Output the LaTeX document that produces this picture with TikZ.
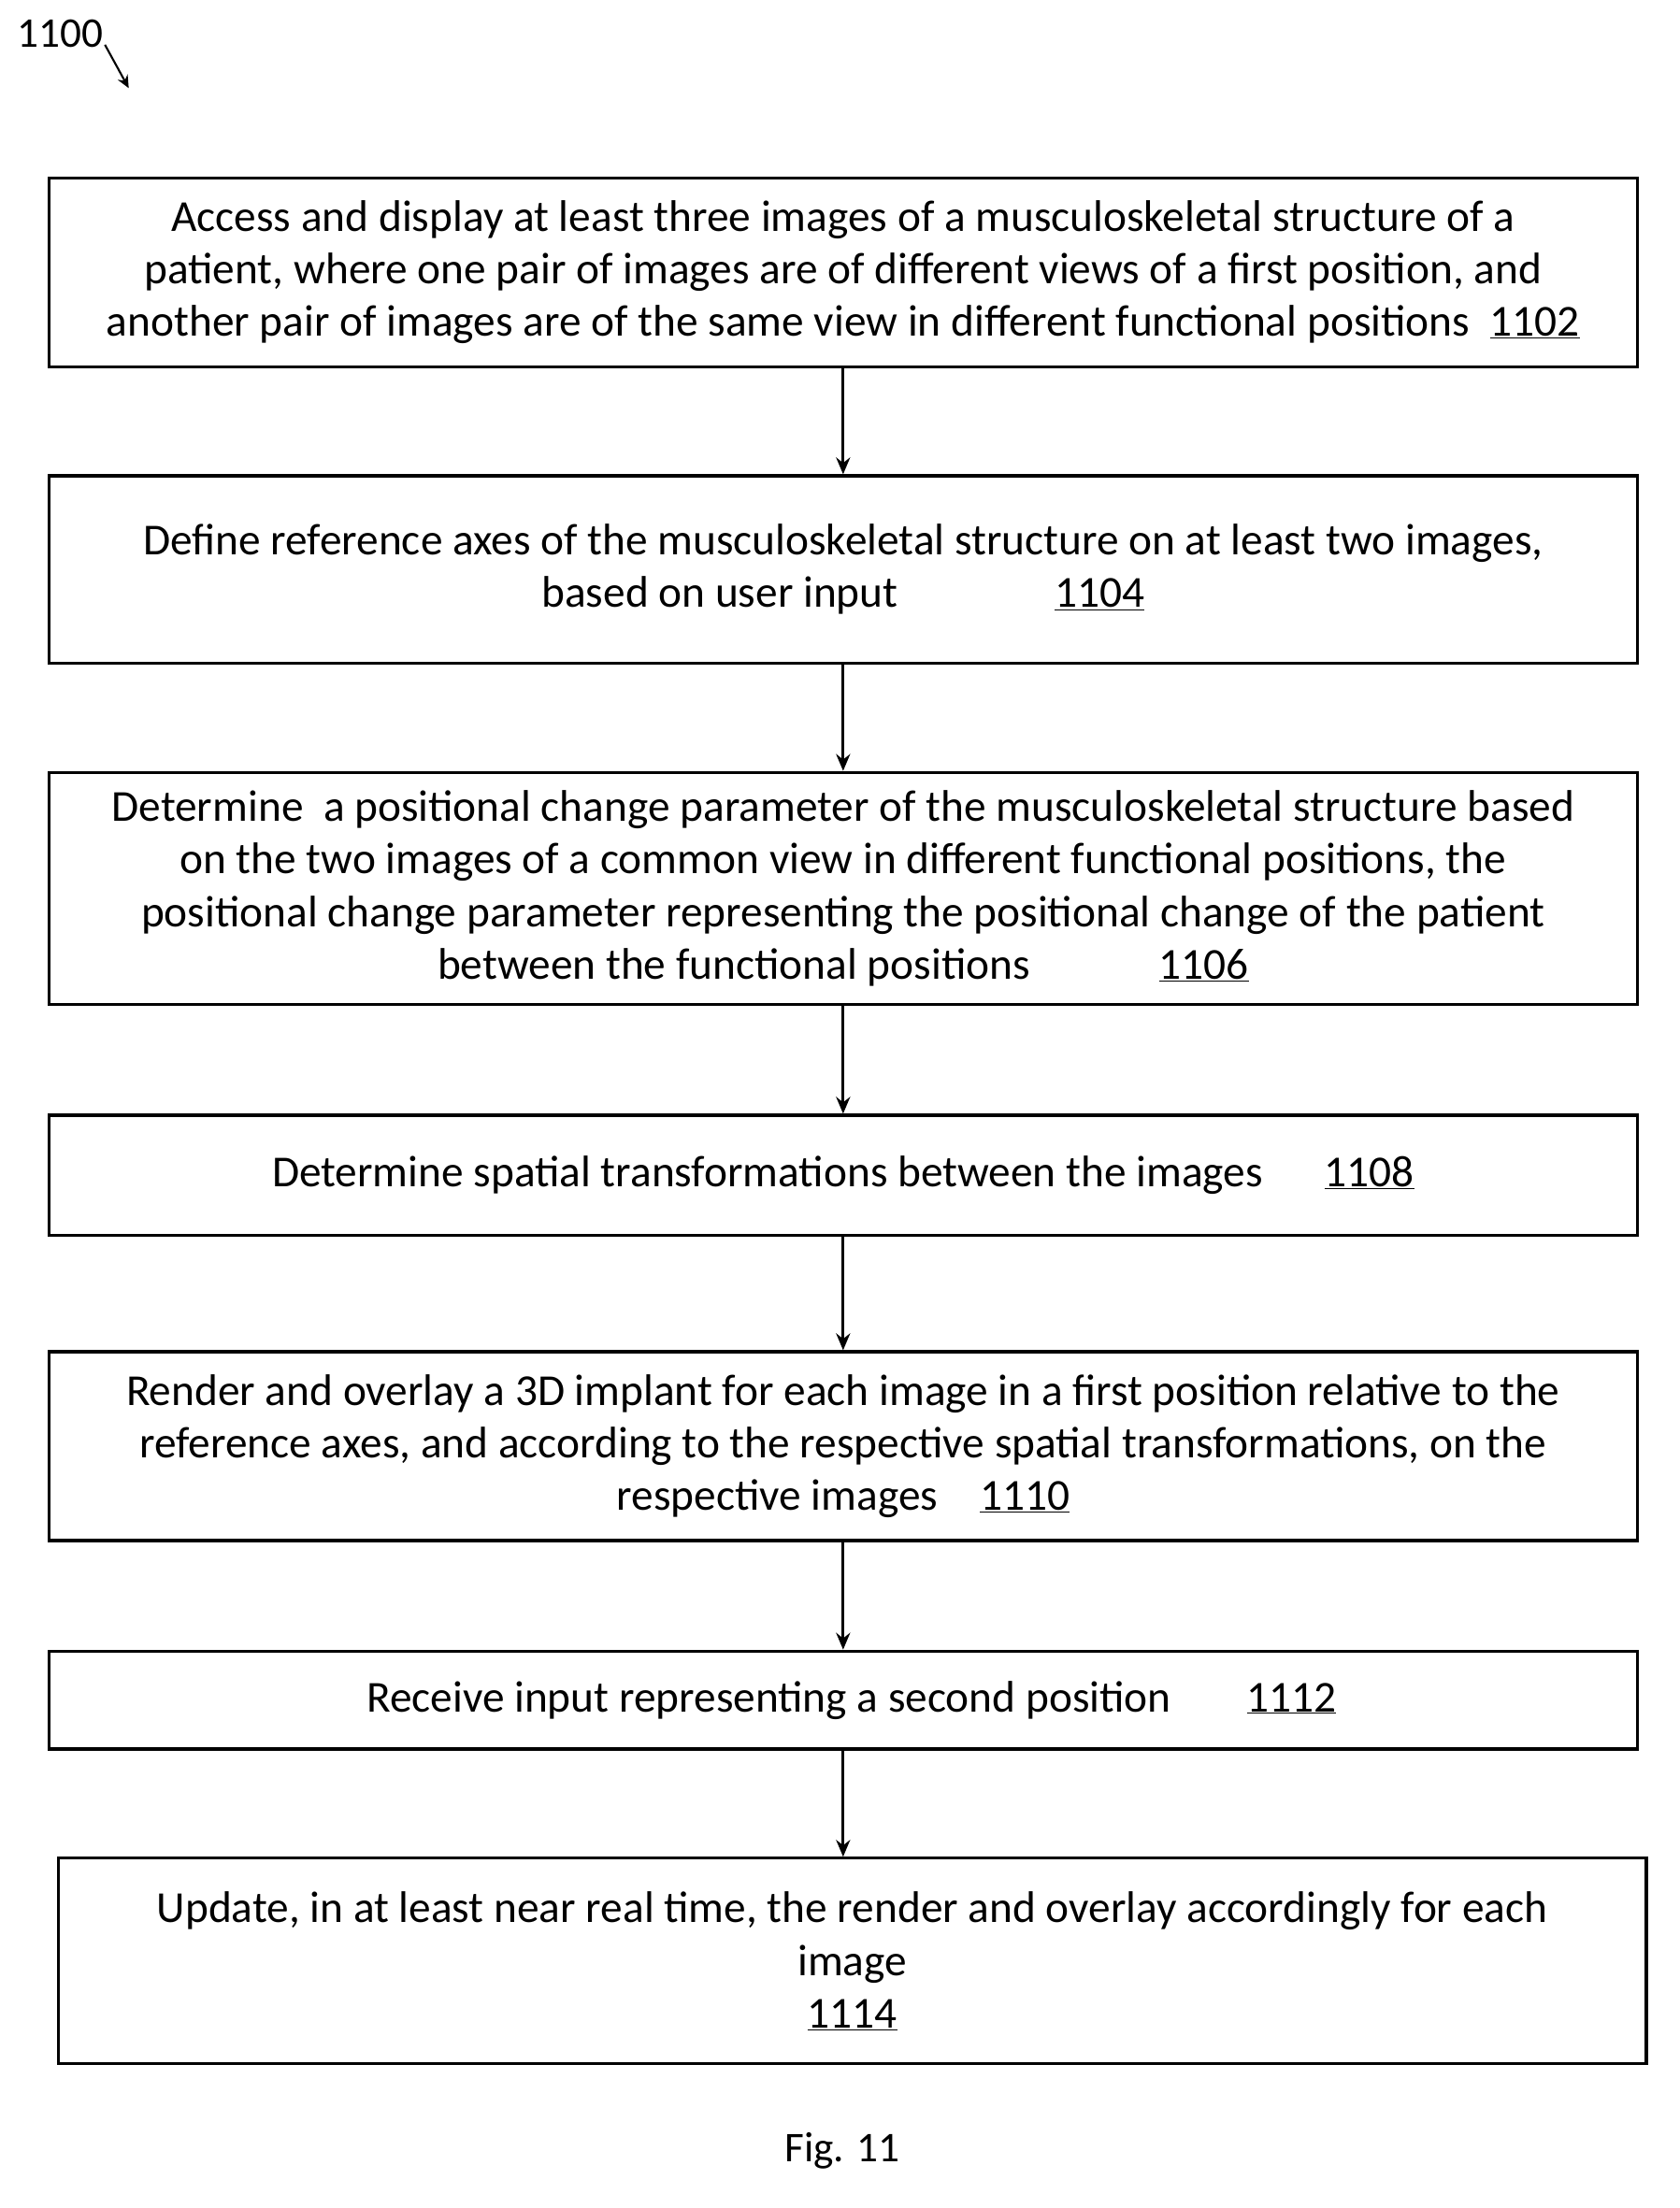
\documentclass[tikz,border=0pt]{standalone}
\usepackage{fontspec}
\setmainfont{Carlito}
\usetikzlibrary{arrows.meta}
\tikzset{
  x=0.05cm, y=-0.05cm,
  >={Stealth[length=0.6cm,width=0.5cm]},
  stepbox/.style={draw, line width=3pt, inner sep=0pt, align=center,
    minimum width=56.75cm, font=\fontsize{45}{53.5}\selectfont},
  flow/.style={->, line width=3pt},
}
\begin{document}
\begin{tikzpicture}
  \useasboundingbox (0,0) rectangle (1200,1578);
  \node[font=\fontsize{43}{50}\selectfont] (fig) at (43,24) {1100};
  \coordinate (tip) at (92,63);
  \draw[flow, line width=2pt, >={Stealth[length=0.45cm,width=0.4cm]}] (75,32) -- (tip);

  \node[stepbox, minimum height=6.75cm] (b1) at (602.5,194.5)
    {Access and display at least three images of a musculoskeletal structure of a\\
     patient, where one pair of images are of different views of a first position, and\\
     another pair of images are of the same view in different functional positions\ \ \underline{1102}};
  \node[stepbox, minimum height=6.7cm] (b2) at (602.5,407)
    {Define reference axes of the musculoskeletal structure on at least two images,\\
     based on user input\hspace{5.6cm}\underline{1104}};
  \node[stepbox, minimum height=8.3cm] (b3) at (602.5,635)
    {Determine\ \ a positional change parameter of the musculoskeletal structure based\\
     on the two images of a common view in different functional positions, the\\
     positional change parameter representing the positional change of the patient\\
     between the functional positions\hspace{4.6cm}\underline{1106}};
  \node[stepbox, minimum height=4.3cm] (b4) at (602.5,840)
    {Determine spatial transformations between the images\hspace{2.2cm}\underline{1108}};
  \node[stepbox, minimum height=6.75cm] (b5) at (602.5,1033.5)
    {Render and overlay a 3D implant for each image in a first position relative to the\\
     reference axes, and according to the respective spatial transformations, on the\\
     respective images\hspace{1.5cm}\underline{1110}};
  \node[stepbox, minimum height=3.5cm] (b6) at (602.5,1215)
    {\hspace{0.6cm}Receive input representing a second position\hspace{2.7cm}\underline{1112}};
  \node[stepbox, minimum height=7.35cm] (b7) at (609,1401.5)
    {Update, in at least near real time, the render and overlay accordingly for each\\
     image\\ \underline{1114}};

  \draw[flow] (b1.south) -- (b2.north);
  \draw[flow] (b2.south) -- (b3.north);
  \draw[flow] (b3.south) -- (b4.north);
  \draw[flow] (b4.south) -- (b5.north);
  \draw[flow] (b5.south) -- (b6.north);
  \draw[flow] (b6.south) -- (b6.south |- b7.north);

  \node[font=\fontsize{43}{50}\selectfont] (cap) at (602,1537) {Fig. 11};
\end{tikzpicture}
\end{document}
